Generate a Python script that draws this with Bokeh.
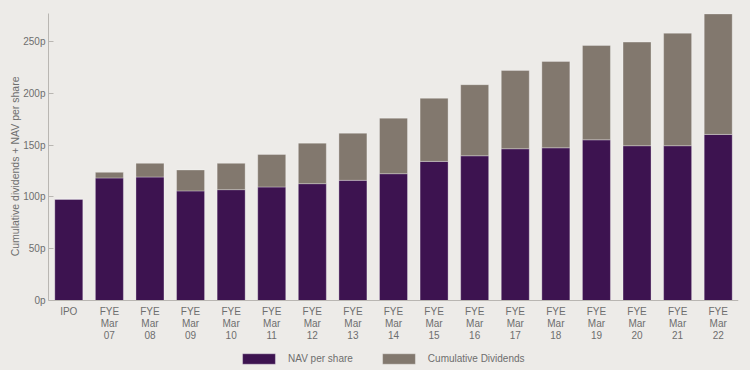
from bokeh.plotting import figure
from bokeh.models import (ColumnDataSource, FactorRange, Range1d, FixedTicker,
                          PrintfTickFormatter, Legend, LegendItem, Title)
from bokeh.embed import file_html
from bokeh.resources import INLINE

# ---- data ----
categories = ["IPO", "FYE\nMar\n07", "FYE\nMar\n08", "FYE\nMar\n09", "FYE\nMar\n10",
              "FYE\nMar\n11", "FYE\nMar\n12", "FYE\nMar\n13", "FYE\nMar\n14",
              "FYE\nMar\n15", "FYE\nMar\n16", "FYE\nMar\n17", "FYE\nMar\n18",
              "FYE\nMar\n19", "FYE\nMar\n20", "FYE\nMar\n21", "FYE\nMar\n22"]
nav_per_share = [97.8, 118.3, 119.2, 105.8, 107.0, 109.6, 112.8, 116.0, 122.4,
                 134.3, 139.7, 146.5, 147.4, 155.1, 149.4, 149.4, 160.3]
cumulative_dividends = [0.0, 5.4, 13.2, 20.2, 25.4, 31.4, 39.1, 45.5, 53.6,
                        60.9, 68.6, 75.6, 83.4, 91.1, 100.0, 108.6, 116.3]
y_ticks = [0, 50, 100, 150, 200, 250]
y_max = 277
series_names = ["NAV per share", "Cumulative Dividends"]
y_title = "Cumulative dividends + NAV per share"

BG = "#edebe8"
PURPLE = "#3d1350"
TAUPE = "#82786e"
TEXT = "#6e6e6e"
AXIS = "#b9b6b2"
FONT = "Liberation Sans"

src = ColumnDataSource(dict(cat=categories, nav=nav_per_share, div=cumulative_dividends))

# frame runs to the bottom of the page; the area below 0 holds the x labels and legend
p = figure(x_range=FactorRange(*categories), y_range=Range1d(-67.5, y_max),
           width=750, height=370, output_backend="svg", toolbar_location=None,
           min_border_left=48, min_border_right=12, min_border_top=13, min_border_bottom=0,
           background_fill_color=BG, border_fill_color=BG, outline_line_color=None)

renderers = p.vbar_stack(["nav", "div"], x="cat", width=0.69, source=src,
                         fill_color=[PURPLE, TAUPE], line_color="white", line_alpha=0.3,
                         line_width=1)

p.xgrid.visible = False
p.ygrid.visible = False

# y axis
ya = p.yaxis[0]
ya.ticker = FixedTicker(ticks=y_ticks)
ya.formatter = PrintfTickFormatter(format="%dp")
ya.bounds = (0, y_max)
ya.major_tick_in = 5
ya.major_tick_out = 0
ya.minor_tick_line_color = None
ya.major_label_standoff = 3
ya.axis_line_color = AXIS
ya.major_tick_line_color = AXIS
ya.major_label_text_font = FONT
ya.major_label_text_font_size = "10px"
ya.major_label_text_color = TEXT

p.add_layout(Title(text=y_title, align="right", offset=63, standoff=0,
                   text_font=FONT, text_font_size="10.5px", text_font_style="normal",
                   text_color=TEXT), "left")

# x axis, pinned at y = 0
xa = p.xaxis[0]
xa.fixed_location = 0
xa.major_tick_in = 0
xa.major_tick_out = 0
xa.major_tick_line_color = None
xa.minor_tick_line_color = None
xa.axis_line_color = AXIS
xa.major_label_standoff = 5
xa.major_label_text_font = FONT
xa.major_label_text_font_size = "10px"
xa.major_label_text_line_height = 1.1
xa.major_label_text_color = TEXT

legend = Legend(items=[LegendItem(label=series_names[0], renderers=[renderers[0]]),
                       LegendItem(label=series_names[1], renderers=[renderers[1]])],
                orientation="horizontal", location=(190, 5),
                glyph_width=41, glyph_height=13, label_height=13, label_width=10,
                padding=0, margin=0, spacing=25, label_standoff=9,
                background_fill_alpha=0, border_line_color=None,
                label_text_font=FONT, label_text_font_size="10px",
                label_text_color=TEXT)
p.add_layout(legend)

html = file_html(p, INLINE)
html = html.replace("<body>", '<body style="background-color:%s;">' % BG)
open("out.html", "w").write(html)
